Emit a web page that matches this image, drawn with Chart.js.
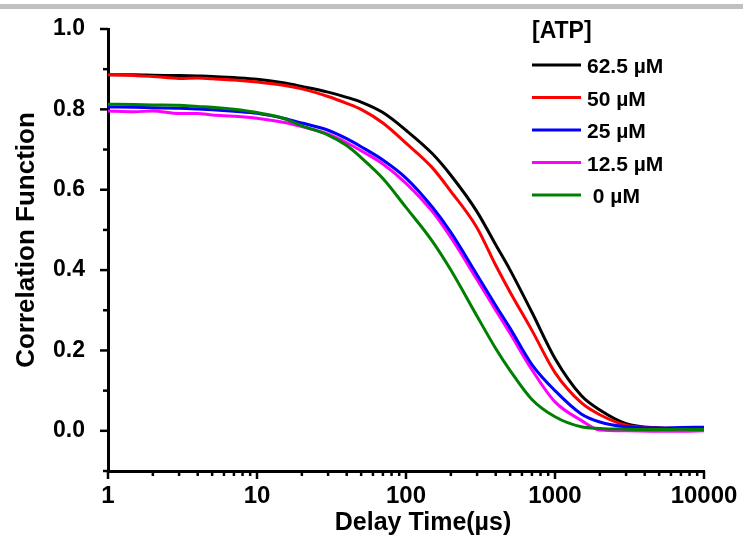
<!DOCTYPE html>
<html><head><meta charset="utf-8">
<script src="https://cdn.jsdelivr.net/npm/chart.js@4.4.0/dist/chart.umd.min.js"></script>
<style>html,body{margin:0;padding:0;background:#fff;}canvas{display:block;}</style>
</head><body>
<canvas id="c" width="743" height="544"></canvas>
<script>
// ---- data ----
const delayTimes = [1, 1.5, 2, 3, 4, 5, 7, 10, 15, 20, 30, 40, 50, 70, 100, 150, 200, 300, 400, 500, 700, 1000, 1500, 2000, 3000, 5000, 7000, 10000];
const atp625 = [0.886,0.886,0.885,0.884,0.883,0.882,0.879,0.875,0.866,0.857,0.843,0.830,0.818,0.792,0.748,0.690,0.636,0.545,0.463,0.400,0.295,0.180,0.088,0.052,0.018,0.007,0.005,0.004];
const atp50  = [0.886,0.884,0.882,0.877,0.878,0.876,0.873,0.868,0.860,0.851,0.832,0.815,0.800,0.766,0.716,0.655,0.596,0.505,0.412,0.345,0.250,0.145,0.070,0.040,0.014,0.007,0.006,0.004];
const atp25  = [0.806,0.805,0.804,0.803,0.801,0.799,0.795,0.790,0.778,0.766,0.748,0.727,0.707,0.674,0.629,0.557,0.494,0.388,0.312,0.255,0.165,0.100,0.042,0.022,0.010,0.007,0.008,0.009];
const atp125 = [0.796,0.794,0.796,0.790,0.790,0.786,0.783,0.778,0.768,0.757,0.738,0.717,0.697,0.664,0.616,0.546,0.481,0.376,0.300,0.242,0.152,0.072,0.026,0.002,0.000,-0.001,-0.001,0.000];
const atp0   = [0.813,0.812,0.811,0.810,0.807,0.805,0.800,0.792,0.778,0.759,0.736,0.710,0.680,0.628,0.556,0.472,0.400,0.285,0.205,0.150,0.078,0.035,0.010,0.006,0.004,0.003,0.004,0.003];
const seriesValues = [atp625, atp50, atp25, atp125, atp0];
const seriesLabels = ['62.5 µM', '50 µM', '25 µM', '12.5 µM', ' 0 µM'];
const seriesColors = ['#000000', '#ff0000', '#0000ff', '#ff00ff', '#008000'];
const seriesOrder = [5, 4, 2, 3, 1];
const xTickValues = [1, 10, 100, 1000, 10000];
const yTickValues = [0, 0.2, 0.4, 0.6, 0.8, 1.0];
const legendTitle = '[ATP]';
const xTitle = 'Delay Time(µs)';
const yTitle = 'Correlation Function';

const FONT = '"Liberation Sans", Arial, Helvetica, sans-serif';

const decor = {
  id: 'decor',
  beforeDraw(chart) {
    const ctx = chart.ctx;
    ctx.save();
    ctx.fillStyle = '#c0c0c0';
    ctx.fillRect(0, 4, chart.width, 5);
    ctx.restore();
  },
  afterDraw(chart) {
    const ctx = chart.ctx;
    const xs = chart.scales.x, ys = chart.scales.y;
    ctx.save();
    ctx.strokeStyle = '#000';
    ctx.lineWidth = 2.5;
    ctx.lineCap = 'butt';
    // y tick marks (major + minor)
    const yAxisX = ys.right;
    for (let i = -1; i <= 10; i++) {
      const v = i / 10;
      const py = ys.getPixelForValue(v);
      const len = (i % 2 === 0) ? 8 : 5;
      ctx.beginPath();
      ctx.moveTo(yAxisX, py);
      ctx.lineTo(yAxisX - len, py);
      ctx.stroke();
    }
    // x tick marks (log major + minor)
    const xAxisY = xs.top;
    for (let d = 1; d <= 10000; d *= 10) {
      for (let m = 1; m <= 9; m++) {
        const v = d * m;
        if (v > 10000) break;
        const px = xs.getPixelForValue(v);
        const len = (m === 1) ? 8 : 5;
        ctx.beginPath();
        ctx.moveTo(px, xAxisY);
        ctx.lineTo(px, xAxisY + len);
        ctx.stroke();
      }
    }
    // axis titles
    ctx.fillStyle = '#000';
    ctx.font = 'bold 25px ' + FONT;
    ctx.textAlign = 'center';
    ctx.textBaseline = 'alphabetic';
    ctx.fillText(xTitle, 423, 530);
    ctx.save();
    ctx.translate(34, 240);
    ctx.rotate(-Math.PI / 2);
    ctx.font = 'bold 26px ' + FONT;
    ctx.fillText(yTitle, 0, 0);
    ctx.restore();
    // legend
    ctx.textAlign = 'left';
    ctx.font = 'bold 23px ' + FONT;
    ctx.fillText(legendTitle, 532, 38);
    ctx.font = 'bold 21px ' + FONT;
    seriesLabels.forEach((lab, i) => {
      const y = 65 + i * 32.5;
      ctx.strokeStyle = seriesColors[i];
      ctx.lineWidth = 3;
      ctx.beginPath();
      ctx.moveTo(532, y);
      ctx.lineTo(581, y);
      ctx.stroke();
      ctx.fillText(lab, 587, y + 8);
    });
    ctx.restore();
  }
};

new Chart(document.getElementById('c'), {
  type: 'line',
  data: {
    datasets: seriesValues.map((vals, i) => ({
      label: seriesLabels[i],
      data: delayTimes.map((t, j) => ({ x: t, y: vals[j] })),
      borderColor: seriesColors[i],
      backgroundColor: seriesColors[i],
      borderWidth: 3,
      pointRadius: 0,
      fill: false,
      cubicInterpolationMode: 'monotone',
      order: seriesOrder[i]
    }))
  },
  options: {
    responsive: false,
    animation: false,
    devicePixelRatio: 1,
    layout: { padding: { left: 0, right: 39, top: 29, bottom: 0 } },
    plugins: { legend: { display: false }, tooltip: { enabled: false } },
    scales: {
      x: {
        type: 'logarithmic',
        min: 1, max: 10000,
        afterFit(s) { s.height = 73; s.paddingLeft = 0; s.paddingRight = 0; },
        afterBuildTicks(s) { s.ticks = xTickValues.map(v => ({ value: v })); },
        grid: { display: false },
        border: { display: true, width: 3, color: '#000' },
        ticks: {
          autoSkip: false, maxRotation: 0, padding: 3,
          color: '#000',
          font: { family: FONT, size: 24, weight: 'bold' },
          callback: (v) => String(v)
        }
      },
      y: {
        type: 'linear',
        min: -0.1, max: 1.0,
        afterFit(s) { s.width = 108; s.paddingTop = 0; s.paddingBottom = 0; },
        afterBuildTicks(s) { s.ticks = yTickValues.map(v => ({ value: v })); },
        grid: { display: false },
        border: { display: true, width: 3, color: '#000' },
        ticks: {
          padding: 15, color: '#000',
          font: { family: FONT, size: 23, weight: 'bold' },
          callback: (v) => Number(v).toFixed(1)
        }
      }
    }
  },
  plugins: [decor]
});
</script>
</body></html>
